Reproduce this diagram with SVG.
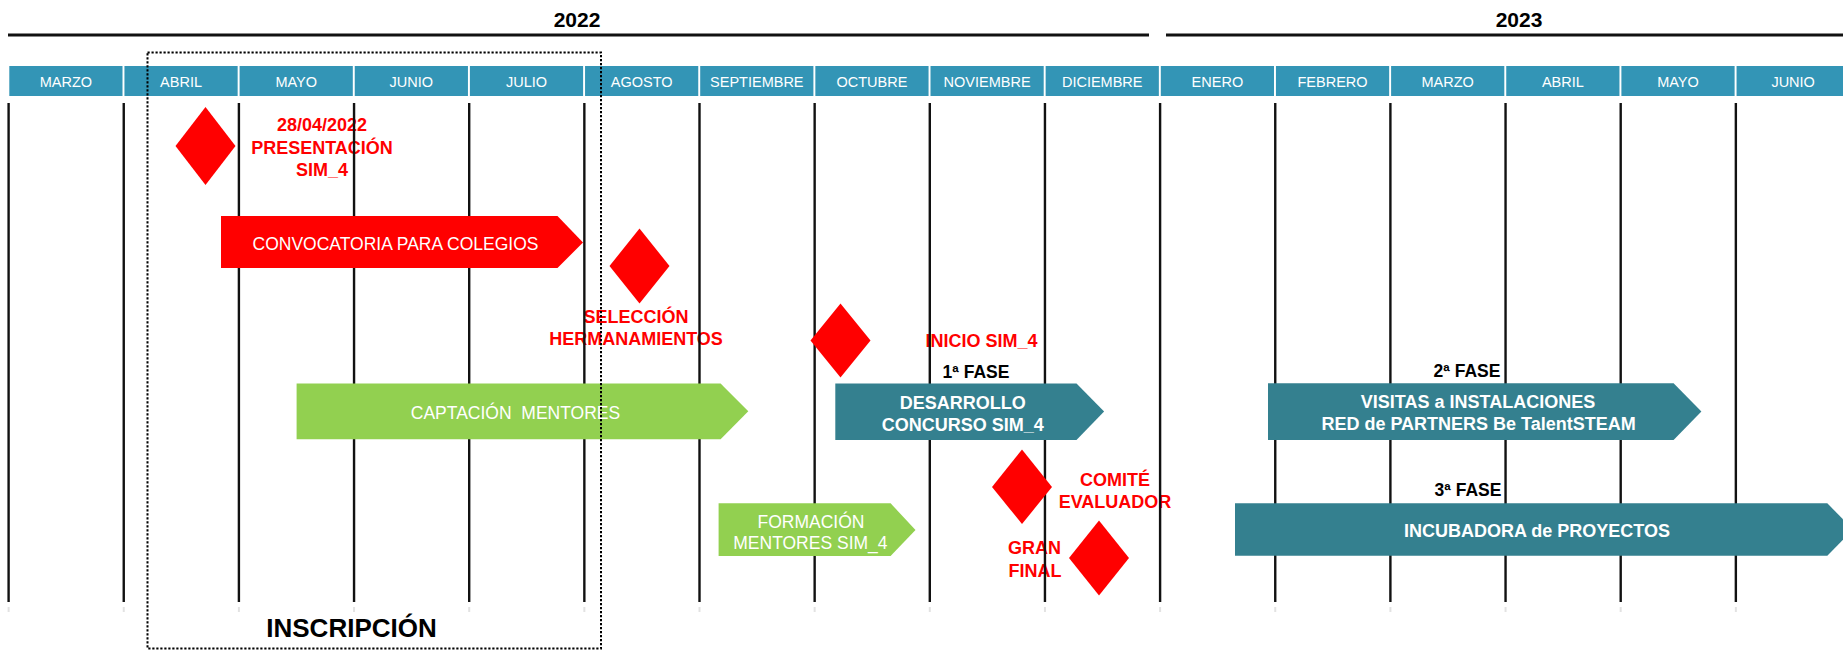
<svg xmlns="http://www.w3.org/2000/svg" width="1843" height="651" viewBox="0 0 1843 651">
<style>
text{font-family:"Liberation Sans",Arial,sans-serif;text-anchor:middle}
.yr{font-size:21px;font-weight:bold;fill:#000}
.mo{font-size:14.5px;fill:#fff}
.cell{fill:#3395B6}
.grid line{stroke:#111;stroke-width:2.4}
.tick line{stroke:#e2e2e2;stroke-width:2}
.yline{stroke:#111;stroke-width:3}
.ms{fill:#FF0000}
.rl{font-size:18px;font-weight:bold;fill:#FF0000}
.ph{font-size:17.5px;font-weight:bold;fill:#000}
.teal{fill:#34808F}
.green{fill:#92D050}
.red{fill:#FF0000}
.wb{font-size:18px;font-weight:bold;fill:#fff}
.wr{font-size:17.5px;fill:#fff}
</style>

<g id="years">
<line class="yline" x1="8" y1="35" x2="1149" y2="35"/>
<line class="yline" x1="1166" y1="35" x2="1843" y2="35"/>
<text class="yr" x="577" y="27">2022</text>
<text class="yr" x="1519" y="27">2023</text>
</g>

<g id="months">
<rect class="cell" x="9.3" y="66" width="113.2" height="30"/>
<rect class="cell" x="124.45" y="66" width="113.2" height="30"/>
<rect class="cell" x="239.6" y="66" width="113.2" height="30"/>
<rect class="cell" x="354.75" y="66" width="113.2" height="30"/>
<rect class="cell" x="469.9" y="66" width="113.2" height="30"/>
<rect class="cell" x="585.05" y="66" width="113.2" height="30"/>
<rect class="cell" x="700.2" y="66" width="113.2" height="30"/>
<rect class="cell" x="815.35" y="66" width="113.2" height="30"/>
<rect class="cell" x="930.5" y="66" width="113.2" height="30"/>
<rect class="cell" x="1045.65" y="66" width="113.2" height="30"/>
<rect class="cell" x="1160.8" y="66" width="113.2" height="30"/>
<rect class="cell" x="1275.95" y="66" width="113.2" height="30"/>
<rect class="cell" x="1391.1" y="66" width="113.2" height="30"/>
<rect class="cell" x="1506.25" y="66" width="113.2" height="30"/>
<rect class="cell" x="1621.4" y="66" width="113.2" height="30"/>
<rect class="cell" x="1736.55" y="66" width="110" height="30"/>
<text class="mo" x="65.9" y="87">MARZO</text>
<text class="mo" x="181.05" y="87">ABRIL</text>
<text class="mo" x="296.2" y="87">MAYO</text>
<text class="mo" x="411.35" y="87">JUNIO</text>
<text class="mo" x="526.5" y="87">JULIO</text>
<text class="mo" x="641.65" y="87">AGOSTO</text>
<text class="mo" x="756.8" y="87">SEPTIEMBRE</text>
<text class="mo" x="871.95" y="87">OCTUBRE</text>
<text class="mo" x="987.1" y="87">NOVIEMBRE</text>
<text class="mo" x="1102.25" y="87">DICIEMBRE</text>
<text class="mo" x="1217.4" y="87">ENERO</text>
<text class="mo" x="1332.55" y="87">FEBRERO</text>
<text class="mo" x="1447.7" y="87">MARZO</text>
<text class="mo" x="1562.85" y="87">ABRIL</text>
<text class="mo" x="1678" y="87">MAYO</text>
<text class="mo" x="1793.15" y="87">JUNIO</text>
</g>

<g id="milestone-labels">
<text class="rl" x="322" y="131">28/04/2022</text>
<text class="rl" x="322" y="154">PRESENTACIÓN</text>
<text class="rl" x="322" y="176">SIM_4</text>
<text class="rl" x="636" y="323">SELECCIÓN</text>
<text class="rl" x="636" y="345">HERMANAMIENTOS</text>
<text class="rl" x="981.5" y="347">INICIO SIM_4</text>
<text class="rl" x="1115" y="486">COMITÉ</text>
<text class="rl" x="1115" y="508">EVALUADOR</text>
<text class="rl" x="1034.5" y="554">GRAN</text>
<text class="rl" x="1035" y="577">FINAL</text>
</g>

<g id="phase-labels">
<text class="ph" x="976" y="378">1ª FASE</text>
<text class="ph" x="1467" y="377">2ª FASE</text>
<text class="ph" x="1468" y="496">3ª FASE</text>
</g>

<g id="grid" class="grid">
<line x1="8.6" y1="103" x2="8.6" y2="602"/>
<line x1="123.75" y1="103" x2="123.75" y2="602"/>
<line x1="238.9" y1="103" x2="238.9" y2="602"/>
<line x1="354.05" y1="103" x2="354.05" y2="602"/>
<line x1="469.2" y1="103" x2="469.2" y2="602"/>
<line x1="584.35" y1="103" x2="584.35" y2="602"/>
<line x1="699.5" y1="103" x2="699.5" y2="602"/>
<line x1="814.65" y1="103" x2="814.65" y2="602"/>
<line x1="929.8" y1="103" x2="929.8" y2="602"/>
<line x1="1044.95" y1="103" x2="1044.95" y2="602"/>
<line x1="1160.1" y1="103" x2="1160.1" y2="602"/>
<line x1="1275.25" y1="103" x2="1275.25" y2="602"/>
<line x1="1390.4" y1="103" x2="1390.4" y2="602"/>
<line x1="1505.55" y1="103" x2="1505.55" y2="602"/>
<line x1="1620.7" y1="103" x2="1620.7" y2="602"/>
<line x1="1735.85" y1="103" x2="1735.85" y2="602"/>
</g>
<g id="grid-ticks" class="tick">
<line x1="8.6" y1="607" x2="8.6" y2="612"/>
<line x1="123.75" y1="607" x2="123.75" y2="612"/>
<line x1="238.9" y1="607" x2="238.9" y2="612"/>
<line x1="354.05" y1="607" x2="354.05" y2="612"/>
<line x1="469.2" y1="607" x2="469.2" y2="612"/>
<line x1="584.35" y1="607" x2="584.35" y2="612"/>
<line x1="699.5" y1="607" x2="699.5" y2="612"/>
<line x1="814.65" y1="607" x2="814.65" y2="612"/>
<line x1="929.8" y1="607" x2="929.8" y2="612"/>
<line x1="1044.95" y1="607" x2="1044.95" y2="612"/>
<line x1="1160.1" y1="607" x2="1160.1" y2="612"/>
<line x1="1275.25" y1="607" x2="1275.25" y2="612"/>
<line x1="1390.4" y1="607" x2="1390.4" y2="612"/>
<line x1="1505.55" y1="607" x2="1505.55" y2="612"/>
<line x1="1620.7" y1="607" x2="1620.7" y2="612"/>
<line x1="1735.85" y1="607" x2="1735.85" y2="612"/>
</g>

<g id="m-presentacion"><polygon class="ms" points="205.5,107 235.5,146 205.5,185 175.5,146"/></g>
<g id="m-seleccion"><polygon class="ms" points="639.5,228.5 669.5,266 639.5,303.5 609.5,266"/></g>
<g id="m-inicio"><polygon class="ms" points="840.5,303.5 870.5,340.5 840.5,377.5 810.5,340.5"/></g>
<g id="m-comite"><polygon class="ms" points="1022,449.5 1052,487 1022,524 992,487"/></g>
<g id="m-granfinal"><polygon class="ms" points="1099,520.5 1129,558 1099,595.5 1069,558"/></g>

<g id="convocatoria">
<polygon class="red" points="221,216 557.5,216 583,242.5 557.5,268 221,268"/>
<text class="wr" x="395.5" y="250">CONVOCATORIA PARA COLEGIOS</text>
</g>

<g id="captacion">
<polygon class="green" points="296.6,383.5 720.6,383.5 748.3,411.3 720.6,439.3 296.6,439.3"/>
<text class="wr" x="515.5" y="419" xml:space="preserve">CAPTACIÓN  MENTORES</text>
</g>

<g id="desarrollo">
<polygon class="teal" points="835.3,383.5 1076.5,383.5 1104.1,411.5 1076.5,440 835.3,440"/>
<text class="wb" x="962.7" y="408.5">DESARROLLO</text>
<text class="wb" x="962.8" y="431">CONCURSO SIM_4</text>
</g>

<g id="formacion">
<polygon class="green" points="718.6,503.3 890.6,503.3 915.5,530 890.6,556 718.6,556"/>
<text class="wr" x="811" y="527.5">FORMACIÓN</text>
<text class="wr" x="810.4" y="549">MENTORES SIM_4</text>
</g>

<g id="visitas">
<polygon class="teal" points="1268,383.3 1673.6,383.3 1701.4,411.5 1673.6,440 1268,440"/>
<text class="wb" x="1478" y="408.3">VISITAS a INSTALACIONES</text>
<text class="wb" x="1478.6" y="430">RED de PARTNERS Be TalentSTEAM</text>
</g>

<g id="incubadora">
<polygon class="teal" points="1235,503.3 1827.3,503.3 1853,529.5 1827.3,555.7 1235,555.7"/>
<text class="wb" x="1537" y="536.7">INCUBADORA de PROYECTOS</text>
</g>

<g id="inscripcion">
<rect x="147.5" y="52.5" width="453.5" height="596" fill="none" stroke="#000" stroke-width="2" stroke-dasharray="2.2 1.8"/>
<text x="351.5" y="637" style="font-size:26px;font-weight:bold;fill:#000">INSCRIPCIÓN</text>
</g>
</svg>
